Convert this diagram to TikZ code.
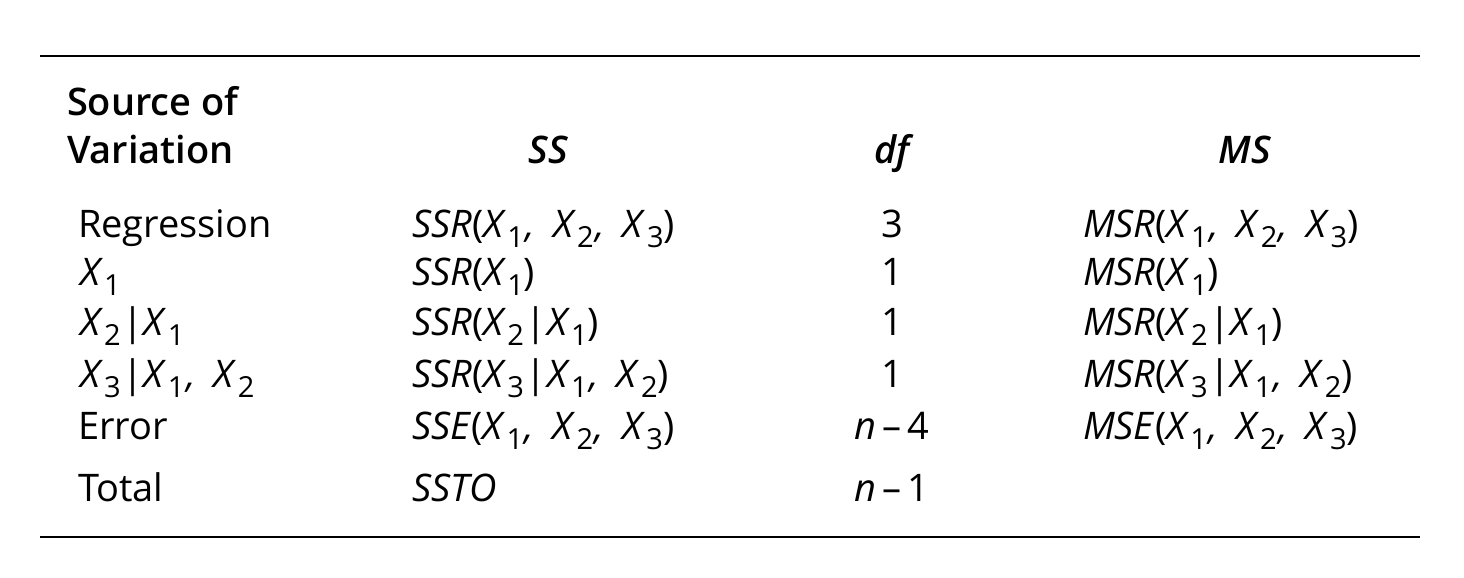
\documentclass[tikz,border=0pt]{standalone}
\usepackage{fontspec}
\setmainfont{Open Sans}[BoldFont={* Semibold},BoldItalicFont={* Semibold Italic}]
\newcommand\Xv[1]{\textit{X}\kern0.03em\raisebox{-0.26em}{\fontsize{29}{29}\selectfont #1}}
\newcommand\cm{\kern0.04em\textit{,}\hspace{0.48em}}
\newcommand\br{\kern0.04em|\kern0.02em}
\begin{document}
\begin{tikzpicture}[x=1pt,y=1pt,
  txt/.style={inner sep=0pt,outer sep=0pt,font=\fontsize{38}{42}\selectfont},
  lft/.style={txt,anchor=base west},
  ctr/.style={txt,anchor=base},
  hd/.style={font=\fontsize{38}{42}\selectfont\bfseries},
  hdi/.style={font=\fontsize{38}{42}\selectfont\bfseries\itshape},
  rule/.style={line width=2.4pt}]
\useasboundingbox (0,0) rectangle (1464,578);
% rules
\coordinate (tl) at (40,522);
\coordinate (tr) at (1420,522);
\coordinate (bl) at (40,41);
\coordinate (br) at (1420,41);
\draw[rule] (tl) -- (tr);
\draw[rule] (bl) -- (br);
% header
\node[lft,hd] (h1a) at (67,462) {Source of};
\node[lft,hd] (h1b) at (67,414) {Variation};
\node[ctr,hdi] (h2) at (548,414) {SS};
\node[ctr,hdi] (h3) at (892,414) {df};
\node[ctr,hdi] (h4) at (1245,414) {MS};
% column 1
\node[lft] (r1a) at (78,340) {Regression};
\node[lft] (r2a) at (80,292) {\Xv{1}};
\node[lft] (r3a) at (80,242) {\Xv{2}\br\Xv{1}};
\node[lft] (r4a) at (80,190) {\Xv{3}\br\Xv{1}\cm\Xv{2}};
\node[lft] (r5a) at (78,138) {Error};
\node[lft] (r6a) at (78,76) {Total};
% column 2
\node[lft] (r1b) at (412,340) {\textit{SSR}(\Xv{1}\cm\Xv{2}\cm\Xv{3})};
\node[lft] (r2b) at (412,292) {\textit{SSR}(\Xv{1})};
\node[lft] (r3b) at (412,242) {\textit{SSR}(\Xv{2}\br\Xv{1})};
\node[lft] (r4b) at (412,190) {\textit{SSR}(\Xv{3}\br\Xv{1}\cm\Xv{2})};
\node[lft] (r5b) at (412,138) {\textit{SSE}(\Xv{1}\cm\Xv{2}\cm\Xv{3})};
\node[lft] (r6b) at (412,76) {\textit{SSTO}};
% column 3
\node[ctr] (r1c) at (892,340) {3};
\node[ctr] (r2c) at (892,292) {1};
\node[ctr] (r3c) at (892,242) {1};
\node[ctr] (r4c) at (892,190) {1};
\node[ctr] (r5c) at (892,138) {\textit{n}\,–\,4};
\node[ctr] (r6c) at (892,76) {\textit{n}\,–\,1};
% column 4
\node[lft] (r1d) at (1083,340) {\textit{MSR}(\Xv{1}\cm\Xv{2}\cm\Xv{3})};
\node[lft] (r2d) at (1083,292) {\textit{MSR}(\Xv{1})};
\node[lft] (r3d) at (1083,242) {\textit{MSR}(\Xv{2}\br\Xv{1})};
\node[lft] (r4d) at (1083,190) {\textit{MSR}(\Xv{3}\br\Xv{1}\cm\Xv{2})};
\node[lft] (r5d) at (1083,138) {\textit{MSE}(\Xv{1}\cm\Xv{2}\cm\Xv{3})};
\end{tikzpicture}
\end{document}
